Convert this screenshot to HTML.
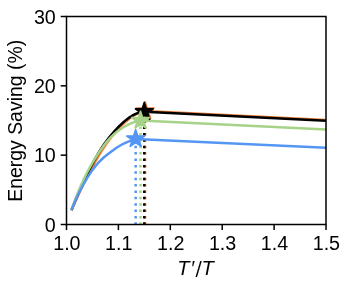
<!DOCTYPE html><html><head><meta charset="utf-8"><title>plot</title><style>html,body{margin:0;padding:0;background:#fff}svg{display:block}text{font-family:"Liberation Sans",sans-serif;fill:#000}</style></head><body>
<svg width="349" height="291" viewBox="0 0 349 291">
<rect width="349" height="291" fill="#fff"/>
<defs><clipPath id="c"><rect x="66.50" y="16.50" width="259.50" height="208.00"/></clipPath></defs>
<g clip-path="url(#c)" fill="none" stroke-width="2.50" stroke-linejoin="round">
<path d="M71.50 210.40 L72.43 208.22 L73.36 206.07 L74.29 203.94 L75.23 201.83 L76.16 199.75 L77.09 197.68 L78.02 195.65 L78.95 193.63 L79.88 191.64 L80.82 189.67 L81.75 187.72 L82.68 185.80 L83.61 183.90 L84.54 182.03 L85.47 180.17 L86.41 178.33 L87.34 176.51 L88.27 174.71 L89.20 172.92 L90.13 171.15 L91.06 169.39 L92.00 167.64 L92.93 165.91 L93.86 164.20 L94.79 162.50 L95.72 160.83 L96.65 159.19 L97.59 157.57 L98.52 155.97 L99.45 154.41 L100.38 152.88 L101.31 151.38 L102.24 149.91 L103.18 148.47 L104.11 147.06 L105.04 145.68 L105.97 144.33 L106.90 143.01 L107.83 141.71 L108.77 140.44 L109.70 139.20 L110.63 137.98 L111.56 136.79 L112.49 135.62 L113.42 134.48 L114.36 133.36 L115.29 132.27 L116.22 131.20 L117.15 130.15 L118.08 129.13 L119.01 128.13 L119.95 127.16 L120.88 126.20 L121.81 125.28 L122.74 124.37 L123.67 123.49 L124.60 122.64 L125.54 121.81 L126.47 121.01 L127.40 120.23 L128.33 119.48 L129.26 118.75 L130.19 118.06 L131.13 117.39 L132.06 116.75 L132.99 116.13 L133.92 115.55 L134.85 114.99 L135.78 114.46 L136.72 113.97 L137.65 113.50 L138.58 113.06 L139.51 112.66 L140.44 112.29 L141.37 111.94 L142.31 111.63 L143.24 111.36 L144.17 111.11 L145.10 110.90 L328.00 120.10" stroke="#EE7D35"/>
<path d="M145.10 224.50 L145.10 110.90" stroke="#EE7D35" stroke-dasharray="2.50 3.88" stroke-dashoffset="0.3"/>
<path d="M71.50 210.00 L72.42 207.69 L73.34 205.40 L74.26 203.13 L75.19 200.87 L76.11 198.64 L77.03 196.43 L77.95 194.25 L78.87 192.09 L79.79 189.96 L80.72 187.87 L81.64 185.80 L82.56 183.78 L83.48 181.78 L84.40 179.82 L85.32 177.90 L86.24 176.00 L87.17 174.12 L88.09 172.27 L89.01 170.44 L89.93 168.64 L90.85 166.85 L91.77 165.08 L92.69 163.33 L93.62 161.60 L94.54 159.91 L95.46 158.24 L96.38 156.60 L97.30 154.99 L98.22 153.42 L99.15 151.89 L100.07 150.39 L100.99 148.94 L101.91 147.52 L102.83 146.15 L103.75 144.80 L104.67 143.50 L105.60 142.22 L106.52 140.97 L107.44 139.75 L108.36 138.56 L109.28 137.39 L110.20 136.25 L111.13 135.12 L112.05 134.02 L112.97 132.94 L113.89 131.88 L114.81 130.84 L115.73 129.82 L116.65 128.83 L117.58 127.85 L118.50 126.90 L119.42 125.97 L120.34 125.07 L121.26 124.19 L122.18 123.33 L123.11 122.49 L124.03 121.68 L124.95 120.90 L125.87 120.14 L126.79 119.42 L127.71 118.71 L128.63 118.04 L129.56 117.40 L130.48 116.79 L131.40 116.20 L132.32 115.65 L133.24 115.14 L134.16 114.65 L135.08 114.20 L136.01 113.78 L136.93 113.40 L137.85 113.06 L138.77 112.75 L139.69 112.48 L140.61 112.24 L141.54 112.05 L142.46 111.89 L143.38 111.77 L144.30 111.70 L328.00 120.90" stroke="#000000"/>
<path d="M144.30 224.50 L144.30 111.70" stroke="#000000" stroke-dasharray="2.50 3.88" stroke-dashoffset="0.3"/>
<path d="M71.50 210.00 L72.37 207.49 L73.25 205.03 L74.12 202.62 L74.99 200.26 L75.87 197.95 L76.74 195.68 L77.61 193.47 L78.49 191.31 L79.36 189.19 L80.23 187.13 L81.11 185.11 L81.98 183.14 L82.85 181.22 L83.73 179.35 L84.60 177.53 L85.47 175.74 L86.35 174.00 L87.22 172.29 L88.09 170.63 L88.97 168.99 L89.84 167.39 L90.72 165.81 L91.59 164.27 L92.46 162.75 L93.34 161.27 L94.21 159.81 L95.08 158.37 L95.96 156.97 L96.83 155.59 L97.70 154.24 L98.58 152.91 L99.45 151.61 L100.32 150.33 L101.20 149.08 L102.07 147.86 L102.94 146.66 L103.82 145.49 L104.69 144.35 L105.56 143.24 L106.44 142.16 L107.31 141.11 L108.18 140.10 L109.06 139.12 L109.93 138.17 L110.80 137.26 L111.68 136.39 L112.55 135.55 L113.42 134.73 L114.30 133.95 L115.17 133.20 L116.04 132.48 L116.92 131.78 L117.79 131.10 L118.66 130.45 L119.54 129.82 L120.41 129.22 L121.28 128.63 L122.16 128.06 L123.03 127.50 L123.91 126.97 L124.78 126.46 L125.65 125.97 L126.53 125.49 L127.40 125.04 L128.27 124.60 L129.15 124.19 L130.02 123.79 L130.89 123.41 L131.77 123.05 L132.64 122.71 L133.51 122.39 L134.39 122.09 L135.26 121.81 L136.13 121.54 L137.01 121.30 L137.88 121.07 L138.75 120.86 L139.63 120.67 L140.50 120.50 L328.00 129.50" stroke="#A6D387"/>
<path d="M140.50 224.50 L140.50 120.50" stroke="#A6D387" stroke-dasharray="2.50 3.88" stroke-dashoffset="0.3"/>
<path d="M71.50 210.00 L72.31 207.89 L73.12 205.84 L73.94 203.86 L74.75 201.94 L75.56 200.08 L76.37 198.28 L77.19 196.52 L78.00 194.82 L78.81 193.16 L79.62 191.54 L80.43 189.95 L81.25 188.41 L82.06 186.89 L82.87 185.41 L83.68 183.95 L84.49 182.52 L85.31 181.12 L86.12 179.75 L86.93 178.41 L87.74 177.09 L88.56 175.81 L89.37 174.56 L90.18 173.33 L90.99 172.14 L91.80 170.97 L92.62 169.84 L93.43 168.74 L94.24 167.67 L95.05 166.63 L95.86 165.62 L96.68 164.65 L97.49 163.70 L98.30 162.79 L99.11 161.92 L99.93 161.08 L100.74 160.27 L101.55 159.49 L102.36 158.74 L103.17 158.02 L103.99 157.32 L104.80 156.64 L105.61 155.98 L106.42 155.34 L107.23 154.71 L108.05 154.08 L108.86 153.46 L109.67 152.85 L110.48 152.23 L111.30 151.62 L112.11 151.01 L112.92 150.41 L113.73 149.81 L114.54 149.22 L115.36 148.64 L116.17 148.07 L116.98 147.51 L117.79 146.97 L118.60 146.45 L119.42 145.95 L120.23 145.47 L121.04 145.01 L121.85 144.57 L122.67 144.15 L123.48 143.75 L124.29 143.36 L125.10 142.99 L125.91 142.64 L126.73 142.29 L127.54 141.96 L128.35 141.64 L129.16 141.32 L129.97 141.01 L130.79 140.70 L131.60 140.40 L132.41 140.10 L133.22 139.81 L134.04 139.51 L134.85 139.21 L135.66 138.90 L328.00 147.79" stroke="#5596F5"/>
<path d="M135.66 224.50 L135.66 138.90" stroke="#5596F5" stroke-dasharray="2.50 3.88" stroke-dashoffset="0.3"/>
</g>
<polygon points="145.10,101.10 147.30,107.87 154.42,107.87 148.66,112.06 150.86,118.83 145.10,114.64 139.34,118.83 141.54,112.06 135.78,107.87 142.90,107.87" fill="#EE7D35" stroke="#EE7D35" stroke-width="1.33" stroke-linejoin="bevel"/>
<polygon points="144.30,101.90 146.50,108.67 153.62,108.67 147.86,112.86 150.06,119.63 144.30,115.44 138.54,119.63 140.74,112.86 134.98,108.67 142.10,108.67" fill="#000000" stroke="#000000" stroke-width="1.33" stroke-linejoin="bevel"/>
<polygon points="140.50,110.70 142.70,117.47 149.82,117.47 144.06,121.66 146.26,128.43 140.50,124.24 134.74,128.43 136.94,121.66 131.18,117.47 138.30,117.47" fill="#A6D387" stroke="#A6D387" stroke-width="1.33" stroke-linejoin="bevel"/>
<polygon points="135.66,129.10 137.86,135.87 144.98,135.87 139.22,140.06 141.42,146.83 135.66,142.64 129.90,146.83 132.10,140.06 126.34,135.87 133.46,135.87" fill="#5596F5" stroke="#5596F5" stroke-width="1.33" stroke-linejoin="bevel"/>
<rect x="66.50" y="16.50" width="259.50" height="208.00" fill="none" stroke="#000" stroke-width="1.50"/>
<g stroke="#000" stroke-width="1.50">
<line x1="66.50" y1="224.50" x2="66.50" y2="230.10"/>
<line x1="118.40" y1="224.50" x2="118.40" y2="230.10"/>
<line x1="170.30" y1="224.50" x2="170.30" y2="230.10"/>
<line x1="222.20" y1="224.50" x2="222.20" y2="230.10"/>
<line x1="274.10" y1="224.50" x2="274.10" y2="230.10"/>
<line x1="326.00" y1="224.50" x2="326.00" y2="230.10"/>
<line x1="66.50" y1="224.50" x2="60.70" y2="224.50"/>
<line x1="66.50" y1="155.17" x2="60.70" y2="155.17"/>
<line x1="66.50" y1="85.83" x2="60.70" y2="85.83"/>
<line x1="66.50" y1="16.50" x2="60.70" y2="16.50"/>
</g>
<g font-size="19.70">
<text x="66.90" y="249.70" text-anchor="middle">1.0</text>
<text x="118.80" y="249.70" text-anchor="middle">1.1</text>
<text x="170.70" y="249.70" text-anchor="middle">1.2</text>
<text x="222.60" y="249.70" text-anchor="middle">1.3</text>
<text x="274.50" y="249.70" text-anchor="middle">1.4</text>
<text x="326.40" y="249.70" text-anchor="middle">1.5</text>
<text x="55.80" y="231.50" text-anchor="end">0</text>
<text x="55.80" y="162.17" text-anchor="end">10</text>
<text x="55.80" y="92.83" text-anchor="end">20</text>
<text x="55.80" y="23.50" text-anchor="end">30</text>
<text y="274.8" font-style="italic" font-size="19.4"><tspan x="177.3" textLength="12.3" lengthAdjust="spacingAndGlyphs">T</tspan><tspan x="190.4">′</tspan><tspan x="195.6" font-size="18.67" font-style="normal" style="font-family:'DejaVu Sans',sans-serif">/</tspan><tspan x="201.4" textLength="12.3" lengthAdjust="spacingAndGlyphs">T</tspan></text>
<text transform="translate(21.8 120.8) rotate(-90)" text-anchor="middle" font-size="19.45">Energy Saving (%)</text>
</g>
</svg></body></html>
